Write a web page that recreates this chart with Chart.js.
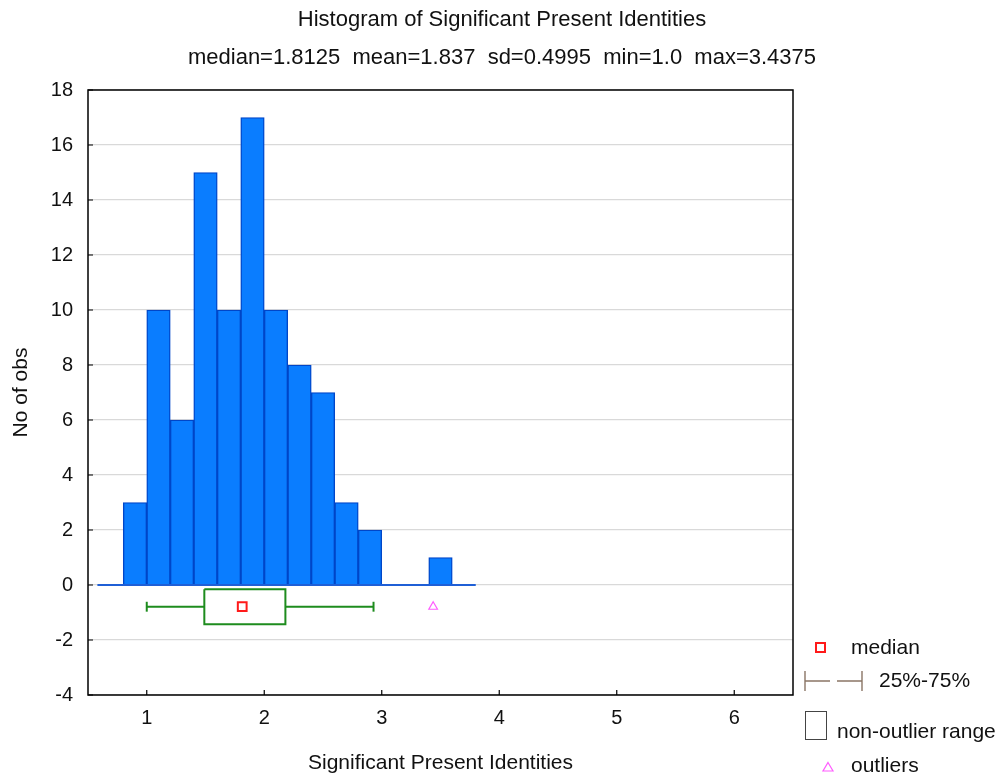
<!DOCTYPE html>
<html>
<head>
<meta charset="utf-8">
<script src="https://cdn.jsdelivr.net/npm/chart.js@4"></script>
<style>
  html, body { margin: 0; padding: 0; background: #fff; }
  #wrap { width: 1004px; height: 776px; }
</style>
</head>
<body>
<div id="wrap"><canvas id="histChart" width="1004" height="776"></canvas></div>
<script>
// histogram bins (centres, width 0.2) and counts
const binCenters = [0.9, 1.1, 1.3, 1.5, 1.7, 1.9, 2.1, 2.3, 2.5, 2.7, 2.9, 3.1, 3.3, 3.5];
const counts = [3, 10, 6, 15, 10, 17, 10, 8, 7, 3, 2, 0, 0, 1];
const baselineRange = [0.58, 3.8];

// box plot summary
const whiskerLow = 1.0;
const q1 = 1.49;
const median = 1.8125;
const q3 = 2.18;
const whiskerHigh = 2.93;
const outliers = [3.4375];
const boxLevel = -0.79;
const boxHalf = 0.64;
const capHalf = 0.18;

const xTicks = [1, 2, 3, 4, 5, 6];
const yTicks = [-4, -2, 0, 2, 4, 6, 8, 10, 12, 14, 16, 18];

const titleLines = ['Histogram of Significant Present Identities'];
const subtitleText = 'median=1.8125  mean=1.837  sd=0.4995  min=1.0  max=3.4375';
const legendLabels = ['median', '25%-75%', 'non-outlier range', 'outliers'];

const FONT = "'Liberation Sans', Arial, sans-serif";
const green = '#1e8c1e';

const seg = (x1, y1, x2, y2) => [{x: x1, y: y1}, {x: x2, y: y2}];
const lineSet = (data, color, width) => ({
    type: 'line', data: data, borderColor: color, borderWidth: width,
    pointRadius: 0, fill: false, tension: 0, order: 0
});

const datasets = [
    {
        type: 'bar',
        label: 'No of obs',
        data: binCenters.map((c, i) => ({x: c, y: counts[i]})),
        backgroundColor: '#0a7dff',
        borderColor: '#0046c8',
        borderWidth: 1.4,
        barPercentage: 1,
        categoryPercentage: 1,
        order: 2
    },
    lineSet(seg(baselineRange[0], 0, baselineRange[1], 0), '#1f5fd6', 2),
    // whiskers
    lineSet(seg(whiskerLow, boxLevel, q1, boxLevel), green, 2),
    lineSet(seg(q3, boxLevel, whiskerHigh, boxLevel), green, 2),
    lineSet(seg(whiskerLow, boxLevel - capHalf, whiskerLow, boxLevel + capHalf), green, 2),
    lineSet(seg(whiskerHigh, boxLevel - capHalf, whiskerHigh, boxLevel + capHalf), green, 2),
    // box
    lineSet([
        {x: q1, y: boxLevel + boxHalf}, {x: q3, y: boxLevel + boxHalf},
        {x: q3, y: boxLevel - boxHalf}, {x: q1, y: boxLevel - boxHalf},
        {x: q1, y: boxLevel + boxHalf}
    ], green, 2),
    {
        type: 'line', data: [{x: median, y: boxLevel}], showLine: false,
        pointStyle: 'rect', pointRadius: 6.2, borderColor: '#ff1a1a', borderWidth: 2,
        backgroundColor: 'rgba(0,0,0,0)', order: 0
    },
    {
        type: 'line', data: outliers.map(v => ({x: v, y: boxLevel})), showLine: false,
        pointStyle: 'triangle', pointRadius: 5, borderColor: '#ff5cff', borderWidth: 1.2,
        backgroundColor: 'rgba(0,0,0,0)', order: 0
    }
];

// frame + inward tick marks
const framePlugin = {
    id: 'frame',
    afterDatasetsDraw(chart) {
        const {ctx, chartArea: a, scales} = chart;
        ctx.save();
        ctx.strokeStyle = '#000';
        ctx.lineWidth = 1.5;
        ctx.strokeRect(a.left, a.top, a.right - a.left, a.bottom - a.top);
        ctx.lineWidth = 1.2;
        ctx.beginPath();
        xTicks.forEach(v => {
            const px = scales.x.getPixelForValue(v);
            ctx.moveTo(px, a.bottom); ctx.lineTo(px, a.bottom - 5);
        });
        yTicks.forEach(v => {
            const py = scales.y.getPixelForValue(v);
            ctx.moveTo(a.left, py); ctx.lineTo(a.left + 5, py);
        });
        ctx.stroke();
        ctx.restore();
    }
};

// box plot key drawn to the right of the plot
const keyPlugin = {
    id: 'boxKey',
    afterDraw(chart) {
        const {ctx, chartArea: a} = chart;
        const x0 = a.right + 12;
        ctx.save();
        ctx.font = '21px ' + FONT;
        ctx.fillStyle = '#111';
        ctx.textBaseline = 'middle';

        // median
        ctx.strokeStyle = '#ff1a1a';
        ctx.lineWidth = 2;
        ctx.strokeRect(x0 + 11, a.bottom - 52, 9, 9);
        ctx.fillText(legendLabels[0], x0 + 46, a.bottom - 47);

        // 25%-75%
        const y2 = a.bottom - 14;
        ctx.strokeStyle = '#8a7565';
        ctx.lineWidth = 1.4;
        ctx.beginPath();
        ctx.moveTo(x0, y2 - 10); ctx.lineTo(x0, y2 + 10);
        ctx.moveTo(x0, y2); ctx.lineTo(x0 + 25, y2);
        ctx.moveTo(x0 + 32, y2); ctx.lineTo(x0 + 57, y2);
        ctx.moveTo(x0 + 57, y2 - 10); ctx.lineTo(x0 + 57, y2 + 10);
        ctx.stroke();
        ctx.fillText(legendLabels[1], x0 + 74, y2);

        // non-outlier range
        ctx.strokeStyle = '#444';
        ctx.lineWidth = 1;
        ctx.strokeRect(x0 + 0.5, a.bottom + 16.5, 21, 28);
        ctx.fillText(legendLabels[2], x0 + 32, a.bottom + 37);

        // outliers
        const ty = a.bottom + 72;
        ctx.strokeStyle = '#ff5cff';
        ctx.lineWidth = 1.2;
        ctx.beginPath();
        ctx.moveTo(x0 + 23, ty - 4.5); ctx.lineTo(x0 + 28, ty + 4); ctx.lineTo(x0 + 18, ty + 4);
        ctx.closePath();
        ctx.stroke();
        ctx.fillText(legendLabels[3], x0 + 46, ty - 1);
        ctx.restore();
    }
};

new Chart(document.getElementById('histChart'), {
    type: 'bar',
    data: {datasets: datasets},
    options: {
        responsive: false,
        animation: false,
        layout: {padding: 0},
        plugins: {
            legend: {display: false},
            tooltip: {enabled: false},
            title: {
                display: true, text: titleLines, color: '#111',
                font: {family: FONT, size: 22, weight: 'normal', lineHeight: 1.2},
                padding: {top: 6.8, bottom: 11.6}
            },
            subtitle: {
                display: true, text: subtitleText, color: '#111',
                font: {family: FONT, size: 22, weight: 'normal', lineHeight: 1.2},
                padding: {top: 0, bottom: 18.8}
            }
        },
        scales: {
            x: {
                type: 'linear', min: 0.5, max: 6.5, offset: false,
                afterFit: s => { s.height = 81; },
                afterBuildTicks: s => { s.ticks = xTicks.map(v => ({value: v})); },
                grid: {display: false, drawTicks: false},
                border: {display: false},
                ticks: {color: '#111', padding: 11, maxRotation: 0, font: {family: FONT, size: 20}},
                title: {
                    display: true, text: 'Significant Present Identities', color: '#111',
                    font: {family: FONT, size: 21}, padding: {top: 0, bottom: 0}
                }
            },
            y: {
                type: 'linear', min: -4, max: 18,
                afterFit: s => { s.width = 88; },
                afterBuildTicks: s => { s.ticks = yTicks.map(v => ({value: v})); },
                grid: {color: '#d9d9d9', lineWidth: 1.2, drawTicks: false},
                border: {display: false},
                ticks: {color: '#111', padding: 15, font: {family: FONT, size: 20}},
                title: {
                    display: true, text: 'No of obs', color: '#111',
                    font: {family: FONT, size: 21}, padding: {top: 9, bottom: 0}
                }
            },
            // empty strip on the right that holds the box-plot key
            keyStrip: {
                type: 'linear', position: 'right', display: true,
                afterFit: s => { s.width = 211; },
                grid: {display: false, drawTicks: false},
                border: {display: false},
                ticks: {display: false}
            }
        }
    },
    plugins: [framePlugin, keyPlugin]
});
</script>
</body>
</html>
